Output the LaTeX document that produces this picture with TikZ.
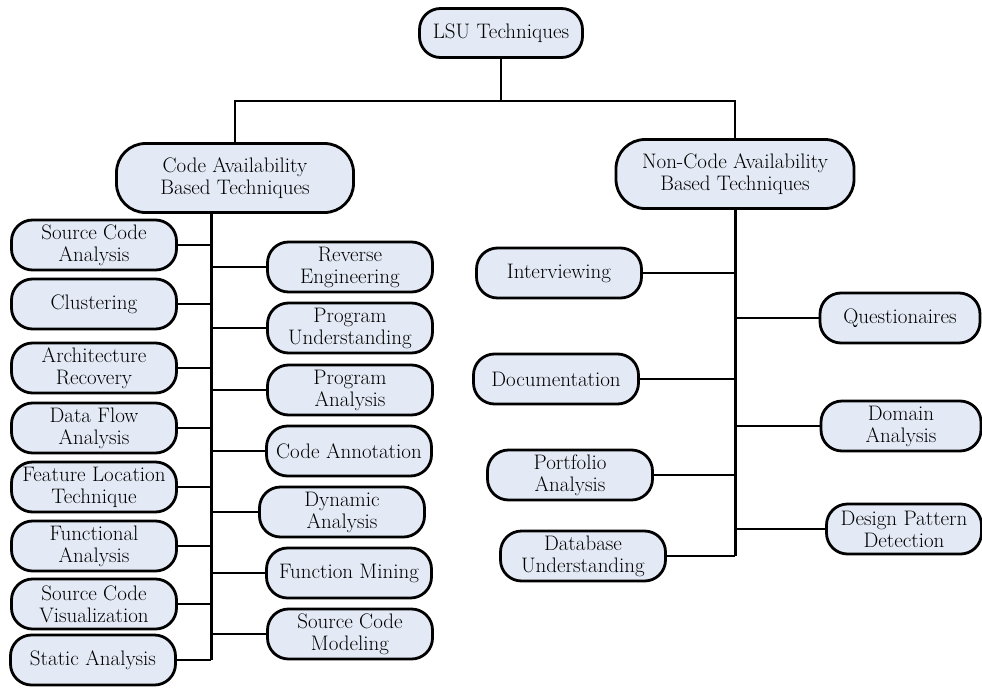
\documentclass[tikz,border=0pt]{standalone}
\begin{document}
\begin{tikzpicture}[x=1pt,y=-1pt,
  box/.style={draw=black, line width=2.8pt, fill={rgb,255:red,228;green,234;blue,245},
    rounded corners=21pt, minimum width=165pt, minimum height=50pt, inner sep=0pt,
    align=center, text=black, font=\fontsize{21}{22}\selectfont},
  bigbox/.style={box, rounded corners=29pt, minimum width=237pt, minimum height=69pt},
  conn/.style={line width=2.5pt},
  trunk/.style={line width=3pt}]
\useasboundingbox (0,0) rectangle (982,688);
\begin{scope}
\clip (0,0) rectangle (982,688);
% top level
\node[box, minimum width=163pt, minimum height=49pt] (lsu) at (501,33) {LSU Techniques};
\node[bigbox] (code) at (235,178) {Code Availability\\Based Techniques};
\node[bigbox, minimum width=238pt] (noncode) at (735,174) {Non-Code Availability\\Based Techniques};
\coordinate (bar) at (0,101);
% left column
\node[box] (sca) at (94,245) {Source Code\\Analysis};
\node[box] (clu) at (94,304) {Clustering};
\node[box] (arc) at (94,368) {Architecture\\Recovery};
\node[box] (dfa) at (94,428) {Data Flow\\Analysis};
\node[box] (flt) at (94,487) {Feature Location\\Technique};
\node[box] (fun) at (94,546) {Functional\\Analysis};
\node[box] (scv) at (94,604) {Source Code\\Visualization};
\node[box] (sta) at (93,660) {Static Analysis};
% right of left trunk
\node[box] (rev) at (350,267) {Reverse\\Engineering};
\node[box] (pun) at (350,328) {Program\\Understanding};
\node[box] (pan) at (350,390) {Program\\Analysis};
\node[box] (ann) at (349,451) {Code Annotation};
\node[box] (dyn) at (342,512) {Dynamic\\Analysis};
\node[box] (fmi) at (349,573) {Function Mining};
\node[box] (scm) at (350,634) {Source Code\\Modeling};
% non-code left
\node[box] (int) at (559,273) {Interviewing};
\node[box] (doc) at (556,379) {Documentation};
\node[box] (por) at (570,475) {Portfolio\\Analysis};
\node[box] (dbu) at (583,556) {Database\\Understanding};
% non-code right
\node[box, minimum width=160pt] (que) at (900,318) {Questionaires};
\node[box, minimum width=160pt] (dom) at (901,426) {Domain\\Analysis};
\node[box, minimum width=155pt] (dpd) at (904,529) {Design Pattern\\Detection};
% trunks
\coordinate (lt) at (211,660);
\coordinate (rt) at (735,556);
\draw[conn] (lsu.south) -- (lsu.south |- bar);
\draw[conn] (code.north) -- (code.north |- bar) -- (noncode.north |- bar) -- (noncode.north);
\draw[trunk] (code.south -| lt) -- (lt);
\draw[trunk] (noncode.south) -- (rt);
% left branches
\foreach \n in {sca,clu,arc,dfa,flt,fun,scv,sta}
  \draw[conn] (\n.east) -- (\n.east -| lt);
\foreach \n in {rev,pun,pan,ann,dyn,fmi,scm}
  \draw[conn] (\n.west) -- (\n.west -| lt);
% right branches
\foreach \n in {int,doc,por,dbu}
  \draw[conn] (\n.east) -- (\n.east -| rt);
\foreach \n in {que,dom,dpd}
  \draw[conn] (\n.west) -- (\n.west -| rt);
\end{scope}
\end{tikzpicture}
\end{document}
